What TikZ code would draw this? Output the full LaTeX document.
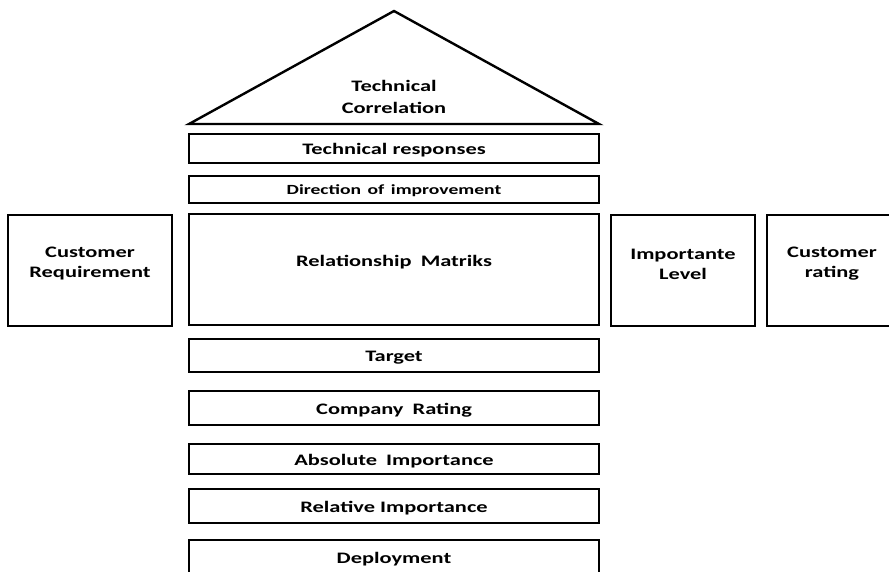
\documentclass[tikz,border=0pt]{standalone}
\usepackage{fontspec}
\setmainfont{Carlito}[FakeStretch=1.4]
\begin{document}
\begin{tikzpicture}[x=1pt,y=-1pt,
  box/.style={draw=black,line width=2.8pt,rectangle,inner sep=0pt,outer sep=0pt,minimum width=410pt,text height=12pt,text depth=0pt},
  side/.style={draw=black,line width=2.8pt,rectangle,inner sep=0pt,outer sep=0pt,minimum height=111pt},
  lbl/.style={font=\bfseries\fontsize{16}{20}\selectfont,align=center,inner sep=0pt},
  slbl/.style={font=\bfseries\fontsize{14}{18}\selectfont,align=center,inner sep=0pt}]
\useasboundingbox (0,0) rectangle (889,572);
% roof
\coordinate (apex) at (394,11);
\coordinate (bl) at (189,124);
\coordinate (br) at (599,124);
\draw[line width=2.4pt,line join=miter] (bl) -- (apex) -- (br) -- cycle;
\node[lbl,font=\bfseries\fontsize{16}{22}\selectfont] (tc) at (394,97) {Technical\\Correlation};
% central column
\node[box,minimum height=29pt,lbl] (tr) at (394,148.5) {Technical responses};
\node[box,minimum height=27pt,slbl,text height=10.5pt] (dir) at (394,189.5) {Direction\hspace{0.15em} of\hspace{0.15em} improvement};
\node[box,minimum height=111pt] (rel) at (394,269.5) {};
\node[lbl] (relt) at (394,262) {Relationship\hspace{0.25em} Matriks};
\node[box,minimum height=33pt,lbl] (tg) at (394,355.5) {Target};
\node[box,minimum height=34pt,lbl] (cor) at (394,408) {Company\hspace{0.25em} Rating};
\node[box,minimum height=30pt,lbl] (abs) at (394,459) {Absolute\hspace{0.25em} Importance};
\node[box,minimum height=34pt,lbl] (ri) at (394,506) {Relative Importance};
\node[box,minimum height=60pt] (dep) at (394,570) {};
\node[lbl] (dept) at (394,559) {Deployment};
% side boxes
\node[side,minimum width=164pt] (cr) at (90,270.5) {};
\node[lbl] (crt) at (90,264) {Customer\\Requirement};
\node[side,minimum width=144pt] (il) at (683,270.5) {};
\node[lbl] (ilt) at (683,264) {Importante\\Level};
\node[side,minimum width=130pt] (cs) at (832,270.5) {};
\node[lbl] (cst) at (832,264) {Customer\\rating};
\end{tikzpicture}
\end{document}
